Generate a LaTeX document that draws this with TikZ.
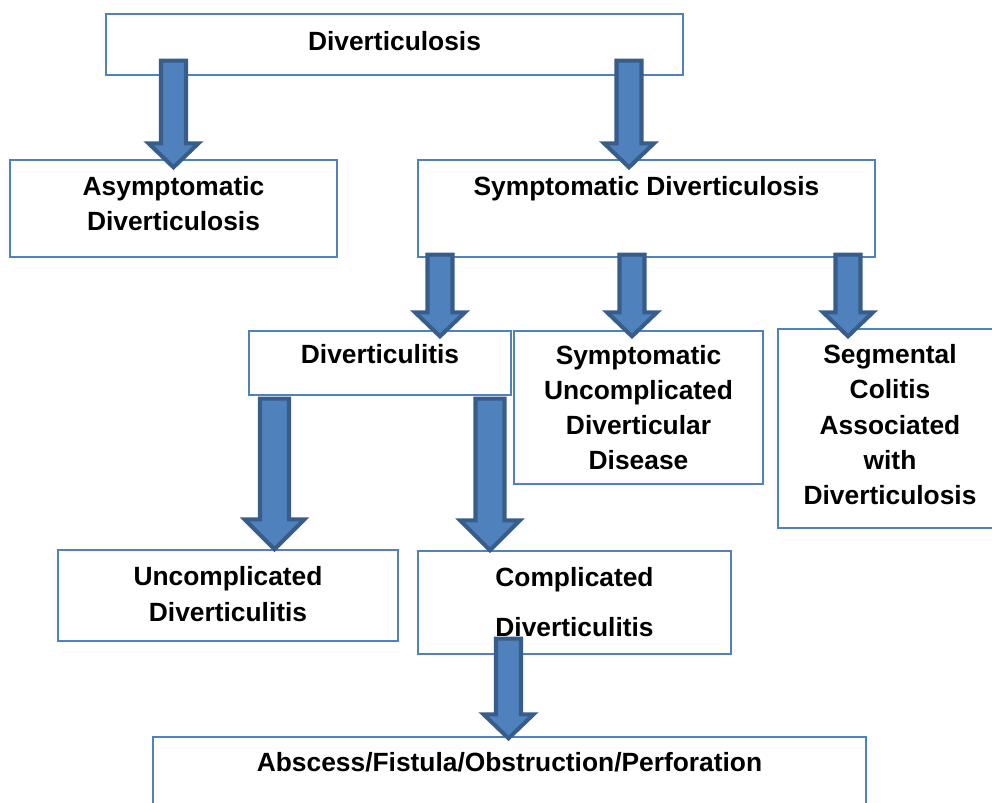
\documentclass[tikz,border=0pt]{standalone}
\usepackage{fontspec}
\setmainfont{Liberation Sans}
\usetikzlibrary{calc}
\definecolor{boxline}{HTML}{4F81BD}
\definecolor{arrowfill}{HTML}{4F81BD}
\definecolor{arrowline}{HTML}{385D8A}
\tikzset{
    barshaft/.store in=\barshafthw, barhead/.store in=\barheadhw, barlen/.store in=\barheadlen,
    barshaft=0.25cm, barhead=0.5cm, barlen=0.48cm
}
\begin{document}
\begin{tikzpicture}[
    font=\fontsize{15pt}{20pt}\selectfont\bfseries,
    box/.style={rectangle, draw=boxline, line width=0.8pt, fill=white, align=center, inner sep=2pt},
    toplabel/.style={anchor=center, font=\fontsize{15pt}{20pt}\selectfont\bfseries},
    barrow/.style={draw=arrowline, fill=arrowfill, line width=2.3pt, line join=miter,
        to path={let \p1=(\tikztostart), \p2=(\tikztotarget) in
            (\x1-\barshafthw,\y1) -- (\x1+\barshafthw,\y1) -- (\x1+\barshafthw,\y2+\barheadlen)
            -- (\x1+\barheadhw,\y2+\barheadlen) -- (\x2,\y2) -- (\x1-\barheadhw,\y2+\barheadlen)
            -- (\x1-\barshafthw,\y2+\barheadlen) -- cycle}}
]
\clip (0,0) rectangle (19.84,-16.06);

\node[box, minimum width=11.54cm, minimum height=1.22cm, text depth=0.16cm] (dsis) at (7.89,-0.89) {Diverticulosis};
\node[box, minimum width=6.54cm, minimum height=1.94cm, text depth=0.2cm] (asym) at (3.47,-4.17) {Asymptomatic\\Diverticulosis};
\node[box, minimum width=9.14cm, minimum height=1.94cm,
    label={[toplabel, yshift=-0.58cm]north:Symptomatic Diverticulosis}] (symp) at (12.93,-4.17) {};

\node[box, minimum width=5.24cm, minimum height=1.28cm, text depth=0.36cm] (ditis) at (7.60,-7.26) {Diverticulitis};
\node[box, minimum width=4.98cm, minimum height=3.06cm] (sudd) at (12.77,-8.15) {Symptomatic\\Uncomplicated\\Diverticular\\Disease};
\node[box, minimum width=4.48cm, minimum height=3.98cm, text depth=0.16cm] (segc) at (17.80,-8.57) {Segmental\\Colitis\\Associated\\with\\Diverticulosis};

\node[box, minimum width=6.80cm, minimum height=1.82cm, text depth=0.06cm] (uncd) at (4.56,-11.91) {Uncomplicated\\Diverticulitis};
\node[box, minimum width=6.26cm, minimum height=2.06cm] (comd) at (11.49,-12.05) {Complicated\\[8.5pt]Diverticulitis};

\node[box, minimum width=14.26cm, minimum height=2.26cm,
    label={[toplabel, yshift=-0.52cm]north:Abscess/Fistula/Obstruction/Perforation}] (abs) at (10.19,-15.87) {};

% block arrows
\draw[barrow] ([xshift=-4.42cm,yshift=0.30cm]dsis.south) to ([yshift=-0.16cm]asym.north);
\draw[barrow] ([xshift=4.69cm,yshift=0.30cm]dsis.south) to ([xshift=-0.35cm,yshift=-0.16cm]symp.north);

\draw[barrow] ([xshift=-4.13cm,yshift=0.06cm]symp.south) to ([xshift=1.20cm,yshift=-0.12cm]ditis.north);
\draw[barrow] ([xshift=-0.29cm,yshift=0.06cm]symp.south) to ([xshift=-0.13cm,yshift=-0.12cm]sudd.north);
\draw[barrow] ([xshift=4.03cm,yshift=0.06cm]symp.south) to ([xshift=-0.84cm,yshift=-0.16cm]segc.north);

\draw[barrow, barshaft=0.29cm, barhead=0.6cm, barlen=0.6cm] ([xshift=-2.11cm,yshift=-0.06cm]ditis.south) to ([xshift=0.93cm]uncd.north);
\draw[barrow, barshaft=0.29cm, barhead=0.6cm, barlen=0.6cm] ([xshift=2.20cm,yshift=-0.06cm]ditis.south) to ([xshift=-1.69cm]comd.north);

\draw[barrow] ([xshift=-1.32cm,yshift=0.32cm]comd.south) to ([xshift=-0.02cm,yshift=-0.04cm]abs.north);
\end{tikzpicture}
\end{document}
